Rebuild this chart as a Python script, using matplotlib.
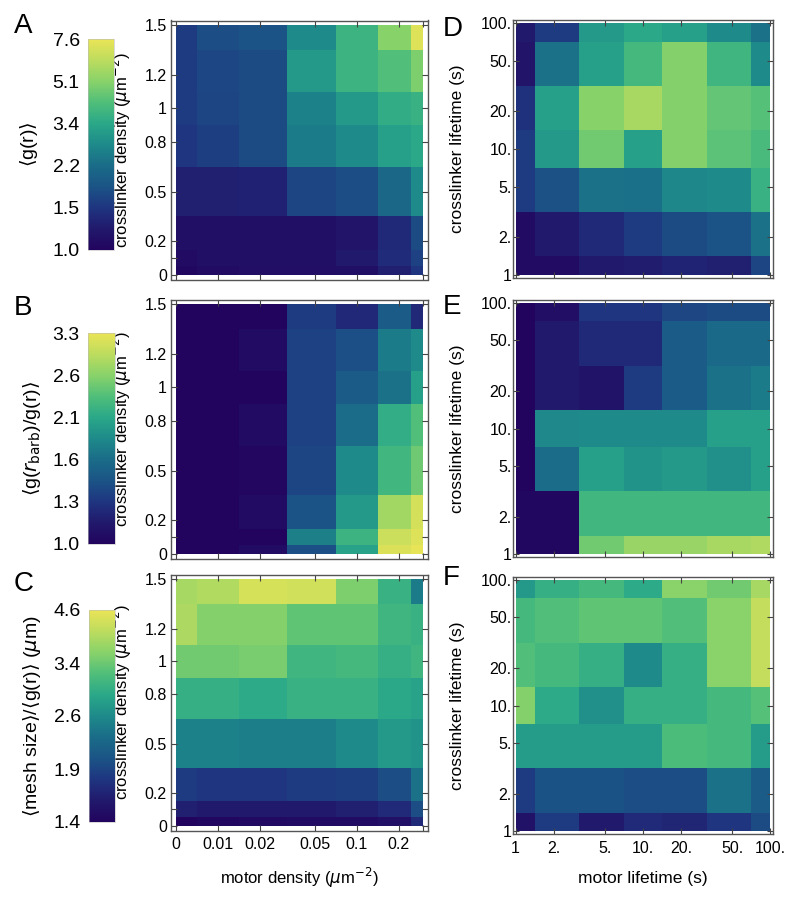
import numpy as np
import matplotlib
matplotlib.use('Agg')
import matplotlib.pyplot as plt
from matplotlib.colors import LinearSegmentedColormap, LogNorm

plt.rcParams['font.family'] = ['Liberation Sans', 'DejaVu Sans']
plt.rcParams['mathtext.fontset'] = 'dejavusans'

# axes values
motor_density = [0, 0.01, 0.02, 0.05, 0.1, 0.2, 0.3]
xlink_density = [0, 0.1, 0.2, 0.5, 0.8, 1.0, 1.2, 1.5]
motor_lifetime = [1, 2, 5, 10, 20, 50, 100]
xlink_lifetime = [1, 2, 5, 10, 20, 50, 100]

md_ticks = [0, 0.01, 0.02, 0.05, 0.1, 0.2, 0.3]
md_labels = ['0', '0.01', '0.02', '0.05', '0.1', '0.2', '']
xd_ticks = [0, 0.1, 0.2, 0.5, 0.8, 1.0, 1.2, 1.5]
xd_labels = ['0', '', '0.2', '0.5', '0.8', '1', '1.2', '1.5']
lt_ticks = [1, 2, 5, 10, 20, 50, 100]
lt_labels = ['1', '2.', '5.', '10.', '20.', '50.', '100.']

# rows: crosslinker density 0 -> 1.5, columns: motor density 0 -> 0.3
g_density = [
    [1.04, 1.08, 1.10, 1.10, 1.11, 1.28, 1.50],
    [1.08, 1.11, 1.11, 1.11, 1.22, 1.41, 1.63],
    [1.11, 1.11, 1.11, 1.11, 1.18, 1.38, 1.73],
    [1.28, 1.28, 1.30, 1.66, 1.76, 2.16, 2.76],
    [1.50, 1.59, 1.73, 2.49, 2.76, 3.18, 3.38],
    [1.56, 1.66, 1.73, 2.59, 3.05, 3.52, 3.66],
    [1.56, 1.69, 1.73, 3.05, 3.74, 4.14, 4.87],
    [1.56, 1.76, 1.84, 2.76, 3.74, 5.06, 7.14],
]
gb_density = [
    [1.00, 1.00, 1.04, 1.40, 2.00, 3.15, 3.27],
    [1.00, 1.00, 1.00, 1.75, 2.17, 3.04, 3.19],
    [1.00, 1.00, 1.05, 1.43, 1.93, 2.76, 3.11],
    [1.00, 1.00, 1.01, 1.35, 1.82, 2.20, 2.45],
    [1.00, 1.00, 1.05, 1.33, 1.61, 2.10, 2.31],
    [1.00, 1.00, 1.00, 1.33, 1.48, 1.65, 1.98],
    [1.00, 1.00, 1.05, 1.33, 1.40, 1.71, 1.82],
    [1.00, 1.00, 1.00, 1.30, 1.20, 1.48, 1.20],
]
mesh_density = [
    [1.40, 1.43, 1.45, 1.47, 1.47, 1.50, 1.70],
    [1.62, 1.58, 1.58, 1.58, 1.62, 1.70, 1.95],
    [1.82, 1.78, 1.78, 1.82, 1.84, 1.95, 2.30],
    [2.45, 2.45, 2.42, 2.42, 2.54, 2.69, 2.63],
    [2.96, 2.96, 2.89, 3.00, 3.00, 2.86, 2.79],
    [3.46, 3.46, 3.50, 3.07, 3.11, 2.96, 3.07],
    [3.93, 3.58, 3.58, 3.33, 3.33, 3.07, 3.00],
    [3.88, 3.97, 4.36, 4.31, 3.54, 3.00, 2.39],
]

# rows: crosslinker lifetime 1 -> 100, columns: motor lifetime 1 -> 100
g_lifetime = [
    [1.08, 1.08, 1.22, 1.25, 1.33, 1.28, 1.66],
    [1.08, 1.22, 1.38, 1.56, 1.73, 1.84, 2.34],
    [1.56, 1.80, 2.34, 2.30, 2.70, 2.76, 3.66],
    [1.56, 3.05, 4.67, 3.18, 4.97, 4.31, 3.97],
    [1.44, 3.18, 5.06, 5.72, 4.97, 4.40, 4.22],
    [1.18, 2.34, 3.18, 3.89, 4.97, 3.81, 2.76],
    [1.22, 1.56, 3.05, 3.38, 3.18, 2.76, 2.34],
]
gb_lifetime = [
    [1.02, 1.02, 2.48, 2.69, 2.69, 2.79, 2.83],
    [1.02, 1.02, 2.20, 2.20, 2.20, 2.20, 2.20],
    [1.00, 1.61, 1.98, 1.88, 1.93, 1.86, 1.98],
    [1.00, 1.80, 1.82, 1.82, 1.82, 1.98, 1.98],
    [1.00, 1.13, 1.09, 1.30, 1.48, 1.65, 1.71],
    [1.00, 1.13, 1.21, 1.21, 1.48, 1.59, 1.59],
    [1.00, 1.06, 1.27, 1.27, 1.36, 1.38, 1.38],
]
mesh_lifetime = [
    [1.52, 1.82, 1.58, 1.70, 1.66, 1.78, 1.93],
    [1.82, 1.99, 1.99, 1.95, 1.95, 2.30, 2.07],
    [2.73, 2.73, 2.73, 2.73, 3.18, 3.11, 2.73],
    [3.58, 2.89, 2.60, 2.96, 2.96, 3.11, 3.26],
    [3.22, 3.11, 2.96, 2.54, 2.96, 3.63, 4.16],
    [3.11, 3.22, 3.33, 3.33, 3.22, 3.63, 4.16],
    [2.69, 2.96, 3.11, 2.89, 3.63, 3.46, 3.88],
]

# colour bar ranges and labels (one per row)
cbar_ranges = [(1.0, 7.6), (1.0, 3.3), (1.4, 4.6)]
cbar_labels = [['1.0', '1.5', '2.2', '3.4', '5.1', '7.6'],
               ['1.0', '1.3', '1.6', '2.1', '2.6', '3.3'],
               ['1.4', '1.9', '2.6', '3.4', '4.6']]
cbar_titles = ['$\\langle$g(r)$\\rangle$',
               '$\\langle$g($r_{\\rm barb}$)/g(r)$\\rangle$',
               '$\\langle$mesh size$\\rangle$/$\\langle$g(r)$\\rangle$ ($\\mu$m)']

cmap = LinearSegmentedColormap.from_list('mma', [
    (0.0, '#22045e'), (0.1, '#21196c'), (0.2, '#1f3580'), (0.3, '#1b5486'),
    (0.4, '#1a6c88'), (0.5, '#1e8a8a'), (0.6, '#2aa888'), (0.7, '#50be7a'),
    (0.8, '#88d26a'), (0.9, '#bcdc5e'), (1.0, '#eae457')])

W, H = 800, 902
fig = plt.figure(figsize=(W / 100, H / 100), dpi=100)


def px_axes(l, t, r, b):
    return fig.add_axes([l / W, 1 - b / H, (r - l) / W, (b - t) / H])


def edges(v):
    v = np.asarray(v, float)
    mid = (v[1:] + v[:-1]) / 2
    return np.concatenate([[v[0]], mid, [v[-1]]])


def style_frame(ax):
    for s in ax.spines.values():
        s.set_color('#555555')
        s.set_linewidth(1.0)
    ax.tick_params(direction='in', top=True, right=True, length=4, width=0.8,
                   color='#444444', labelsize=11.5, pad=3)


# motor density axis: log scale with 0 placed half a step left of 0.01
def md_pos(x):
    x = np.asarray(x, float)
    return np.log10(np.where(x > 0, x, 0.005))


left_rows = [(20.5, 279.5), (299.5, 558.5), (574.5, 830.5)]
right_rows = [(20, 278), (300, 557), (577, 834)]
cbar_boxes = [(88, 39, 114, 250), (88, 333, 115, 544), (89, 610, 115, 822)]
density_data = [g_density, gb_density, mesh_density]
lifetime_data = [g_lifetime, gb_lifetime, mesh_lifetime]
letters_left = ['A', 'B', 'C']
letters_right = ['D', 'E', 'F']
letter_y_left = [13, 295, 571]
letter_y_right = [16, 294, 565]
cbar_label_x = [29, 32, 32]

for i in range(3):
    vmin, vmax = cbar_ranges[i]
    norm = LogNorm(vmin=vmin, vmax=vmax)

    # left: density heatmap
    t, b = left_rows[i]
    ax = px_axes(171, t, 428, b)
    xe = edges(md_pos(motor_density))
    ye = edges(xlink_density)
    mesh = ax.pcolormesh(xe, ye, np.array(density_data[i]), cmap=cmap, norm=norm,
                         shading='flat', edgecolors='face', linewidth=0)
    px = 0.02 * (xe[-1] - xe[0])
    py = 0.02 * (ye[-1] - ye[0])
    ax.set_xlim(xe[0] - px, xe[-1] + px)
    ax.set_ylim(ye[0] - py, ye[-1] + py)
    ax.set_xticks(md_pos(md_ticks))
    ax.set_xticklabels(md_labels if i == 2 else [''] * len(md_ticks))
    ax.set_yticks(xd_ticks)
    ax.set_yticklabels(xd_labels)
    style_frame(ax)
    ax.tick_params(axis='x', pad=5)
    ax.set_ylabel('crosslinker density ($\\mu$m$^{-2}$)', fontsize=12)
    ax.yaxis.set_label_coords(-0.145, 0.5)
    if i == 2:
        ax.set_xlabel('motor density ($\\mu$m$^{-2}$)', fontsize=12)
        ax.xaxis.set_label_coords(0.5, -0.14)

    # colour bar on the far left
    l, ct, r, cb = cbar_boxes[i]
    cax = px_axes(l, ct, r, cb)
    n = len(cbar_labels[i])
    cbar = fig.colorbar(mesh, cax=cax, ticks=np.geomspace(vmin, vmax, n))
    cbar.ax.minorticks_off()
    cbar.set_ticks(np.geomspace(vmin, vmax, n), labels=cbar_labels[i])
    cax.yaxis.set_ticks_position('left')
    cax.tick_params(length=0, labelsize=14, pad=6)
    cbar.outline.set_linewidth(0.4)
    cbar.outline.set_edgecolor('#bbbbbb')
    fig.text(cbar_label_x[i] / W, 1 - ((ct + cb) / 2) / H, cbar_titles[i],
             rotation=90, ha='center', va='center', fontsize=14)

    fig.text(14 / W, 1 - letter_y_left[i] / H, letters_left[i],
             ha='left', va='top', fontsize=20)

    # right: lifetime heatmap
    t, b = right_rows[i]
    ax = px_axes(513, t, 773, b)
    xe = 10 ** edges(np.log10(motor_lifetime))
    ye = 10 ** edges(np.log10(xlink_lifetime))
    ax.pcolormesh(xe, ye, np.array(lifetime_data[i]), cmap=cmap, norm=norm,
                  shading='flat', edgecolors='face', linewidth=0)
    ax.set_xscale('log')
    ax.set_yscale('log')
    ax.set_xlim(10 ** -0.02, 10 ** 2.02)
    ax.set_ylim(10 ** -0.02, 10 ** 2.02)
    ax.minorticks_off()
    ax.set_xticks(lt_ticks)
    ax.set_xticklabels(lt_labels if i == 2 else [''] * len(lt_ticks))
    ax.set_yticks(xlink_lifetime)
    ax.set_yticklabels(lt_labels)
    style_frame(ax)
    ax.tick_params(axis='y', pad=1)
    ax.tick_params(axis='x', pad=5)
    ax.set_ylabel('crosslinker lifetime (s)', fontsize=12.5)
    ax.yaxis.set_label_coords(-0.185, 0.5)
    if i == 2:
        ax.set_xlabel('motor lifetime (s)', fontsize=12.5)
        ax.xaxis.set_label_coords(0.5, -0.145)

    fig.text(443 / W, 1 - letter_y_right[i] / H, letters_right[i],
             ha='left', va='top', fontsize=20)

fig.savefig('out.png', dpi=100)
